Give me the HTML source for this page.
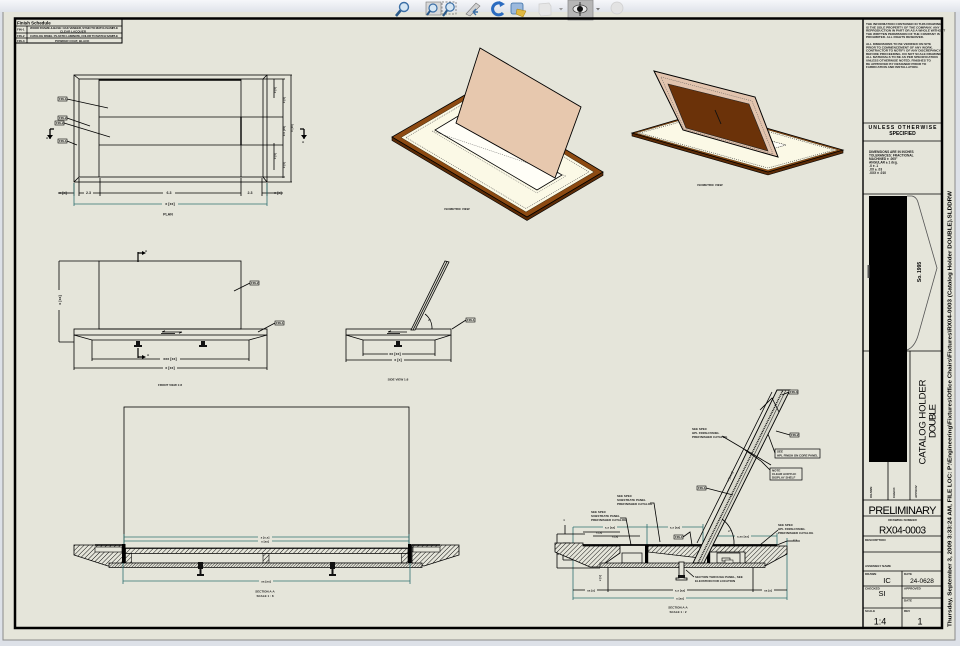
<!DOCTYPE html>
<html><head><meta charset="utf-8">
<style>
html,body{margin:0;padding:0;width:960px;height:646px;overflow:hidden;background:#dde1e8;}
svg{display:block;}
text{font-family:"Liberation Sans",sans-serif;}
.t{font-size:3.6px;font-weight:bold;fill:#1a1a1a;}
.s{font-size:3px;font-weight:bold;fill:#1a1a1a;}
.tl{fill:none;stroke:#2f7070;stroke-width:0.8;}
.ln{fill:none;stroke:#000;stroke-width:0.8;}
.th{fill:none;stroke:#000;stroke-width:1.2;}
</style></head><body>
<svg width="960" height="646" viewBox="0 0 960 646" xmlns="http://www.w3.org/2000/svg">
<defs>
 <linearGradient id="tb" x1="0" y1="0" x2="0" y2="1"><stop offset="0" stop-color="#f6f7fa"/><stop offset="1" stop-color="#dfe3ea"/></linearGradient>
 <pattern id="h" patternUnits="userSpaceOnUse" width="3.2" height="3.2" patternTransform="rotate(45)"><rect width="3.2" height="3.2" fill="#e5e5da"/><line x1="0" y1="0" x2="0" y2="3.2" stroke="#000" stroke-width="0.9"/></pattern>
 <pattern id="hf" patternUnits="userSpaceOnUse" width="2" height="2" patternTransform="rotate(45)"><rect width="2" height="2" fill="#e5e5da"/><line x1="0" y1="0" x2="0" y2="2" stroke="#000" stroke-width="0.8"/></pattern>
</defs>

<!-- sheet -->
<rect x="3" y="8" width="952" height="632" fill="#e5e5da" stroke="#8a8a8a" stroke-width="1"/>
<rect x="0" y="0" width="960" height="12" fill="url(#tb)"/>

<!-- toolbar icons -->
<g>
 <circle cx="404" cy="7" r="4.5" fill="#d5e6f4" stroke="#3a6ea5" stroke-width="1.4"/>
 <line x1="400.5" y1="10.5" x2="396" y2="16" stroke="#2a5a8a" stroke-width="2.6"/>
 <rect x="426" y="2" width="15" height="13" fill="#d8d8d8" stroke="#777" stroke-width="0.6"/>
 <circle cx="433" cy="8" r="4" fill="#d5e6f4" stroke="#3a6ea5" stroke-width="1.2"/>
 <line x1="430" y1="11" x2="427" y2="15" stroke="#2a5a8a" stroke-width="2"/>
 <rect x="442" y="2" width="14" height="12" fill="none" stroke="#666" stroke-width="0.7" stroke-dasharray="2,1.5"/>
 <circle cx="450" cy="7" r="4.2" fill="#d5e6f4" stroke="#3a6ea5" stroke-width="1.2"/>
 <line x1="447" y1="10.5" x2="443" y2="16" stroke="#2a5a8a" stroke-width="2.2"/>
 <path d="M466 14 L476 3 L480 6 L470 16 Z" fill="#d0d0d0" stroke="#777" stroke-width="0.6"/>
 <path d="M473 12 L478 12 M473 12 L476 9 M473 12 L476 15" stroke="#3a6ea5" stroke-width="1.4" fill="none"/>
 <path d="M502 4 A6 6 0 1 0 503 13" fill="none" stroke="#2a6bc0" stroke-width="3"/>
 <path d="M499 1 L505 4 L500 7 Z" fill="#2a6bc0"/>
 <rect x="511" y="3" width="12" height="11" rx="2" fill="#9bb9dd" stroke="#3a6ea5" stroke-width="0.8"/>
 <path d="M517 9 L526 11 L523 17 L516 14 Z" fill="#e0b840" stroke="#a07a10" stroke-width="0.5"/>
 <path d="M539 4 L549 3 L551 6 L551 15 L541 16 L539 13 Z" fill="#e6e6e6" stroke="#cfcfcf" stroke-width="0.7"/>
 <path d="M559 8 L563 8 L561 10.5 Z" fill="#999"/>
 <rect x="568" y="0" width="25" height="20" fill="#b6b6b6" stroke="#8e8e8e" stroke-width="0.8"/>
 <ellipse cx="580" cy="9" rx="7" ry="4" fill="#e8e8e8" stroke="#444" stroke-width="0.8"/>
 <circle cx="580" cy="9" r="3" fill="#111"/>
 <line x1="580" y1="2" x2="580" y2="16" stroke="#111" stroke-width="0.8"/>
 <path d="M596 8 L600 8 L598 10.5 Z" fill="#777"/>
 <circle cx="617" cy="8" r="6" fill="#e3e3e3" stroke="#cfcfcf" stroke-width="0.8"/>
</g>

<!-- border -->
<path d="M15 628 V18.5 H942 V628 Z" fill="none" stroke="#000" stroke-width="2.5"/>

<!-- finish schedule table -->
<rect x="15.5" y="19" width="106.5" height="24" fill="none" stroke="#000" stroke-width="1"/>
<line x1="15" y1="26" x2="122" y2="26" class="ln"/>
<line x1="15" y1="33" x2="122" y2="33" class="ln"/>
<line x1="15" y1="38" x2="122" y2="38" class="ln"/>
<line x1="27" y1="26" x2="27" y2="43" class="ln"/>
<text x="17" y="24.6" style="font-size:4.4px;font-weight:bold">Finish Schedule</text>
<text x="17" y="30.5" class="s">FIN-1</text>
<text x="30" y="29" class="s" textLength="88">WOOD FRAME &amp; BASE: OAK VENEER, STAIN TO MATCH SAMPLE</text>
<text x="60" y="32.3" class="s">CLEAR LACQUER</text>
<text x="17" y="36.8" class="s">FIN-2</text>
<text x="30" y="36.8" class="s" textLength="88">CATALOG PANEL: PLASTIC LAMINATE, COLOR TO MATCH SAMPLE</text>
<text x="17" y="41.8" class="s">FIN-3</text>
<text x="55" y="41.8" class="s">POWDER COAT, BLACK</text>

<!-- PLAN VIEW -->
<g>
 <rect x="74" y="75" width="193" height="107" class="ln" stroke-width="1"/>
 <rect x="79" y="79" width="184" height="98" class="ln"/>
 <path d="M74 75 L79 79 M267 75 L263 79 M74 182 L79 177 M267 182 L263 177" class="ln"/>
 <line x1="99" y1="80" x2="241" y2="80" stroke="#000" stroke-width="1.6"/>
 <line x1="99" y1="79" x2="99" y2="177" class="ln"/>
 <line x1="241" y1="79" x2="241" y2="177" class="ln"/>
 <line x1="99" y1="117" x2="283" y2="117" class="ln"/>
 <line x1="99" y1="145" x2="283" y2="145" class="ln"/>
 <line x1="241" y1="117" x2="241" y2="145" stroke="#000" stroke-width="1.4"/>
 <line x1="267" y1="75" x2="292" y2="75" class="ln"/>
 <line x1="267" y1="182" x2="292" y2="182" class="ln"/>
 <line x1="274" y1="79" x2="274" y2="98" class="ln"/>
 <line x1="274" y1="143" x2="274" y2="170" class="ln"/>
 <line x1="283" y1="79" x2="283" y2="178" class="ln"/>
 <line x1="291" y1="75" x2="291" y2="182" class="ln"/>
 <line x1="263" y1="79" x2="285" y2="79" class="ln"/>
 <line x1="263" y1="177" x2="285" y2="177" class="ln"/>
 <text transform="translate(276,90) rotate(-90)" class="s" text-anchor="middle">x [x]</text>
 <text transform="translate(276,156) rotate(-90)" class="s" text-anchor="middle">x [x]</text>
 <text transform="translate(285,100) rotate(-90)" class="s" text-anchor="middle">x [x]</text>
 <text transform="translate(285,131) rotate(-90)" class="s" text-anchor="middle">x.x [xx]</text>
 <text transform="translate(285,165) rotate(-90)" class="s" text-anchor="middle">x [x]</text>
 <text transform="translate(293,128) rotate(-90)" class="s" text-anchor="middle">x [xx]</text>
 <!-- bottom dims -->
 <path d="M74 183 V196 M79 178 V196 M100 178 V196 M241 178 V196 M262 178 V196 M267 183 V196" class="ln"/>
 <line x1="58" y1="193" x2="74" y2="193" class="ln"/>
 <line x1="79" y1="193" x2="241" y2="193" class="ln"/>
 <line x1="262" y1="193" x2="283" y2="193" class="ln"/>
 <rect x="84" y="191" width="9" height="4" fill="#e5e5da"/><text x="88.5" y="194.2" class="t" text-anchor="middle">2.3</text>
 <rect x="163" y="191" width="12" height="4" fill="#e5e5da"/><text x="169" y="194.2" class="t" text-anchor="middle">6.3</text>
 <rect x="245" y="191" width="10" height="4" fill="#e5e5da"/><text x="250" y="194.2" class="t" text-anchor="middle">2.3</text>
 <text x="63" y="194.2" class="t" text-anchor="middle">x [x]</text>
 <text x="278" y="194.2" class="t" text-anchor="middle">x [x]</text>
 <path d="M74 183 V206 M267 183 V206" class="tl"/>
 <line x1="74" y1="204" x2="267" y2="204" class="tl"/>
 <rect x="162" y="202" width="16" height="4" fill="#e5e5da"/><text x="170" y="205.2" class="t" text-anchor="middle">x [xx]</text>
 <text x="168" y="215.5" class="t" text-anchor="middle">PLAN</text>
 <!-- section marks -->
 <path d="M50 129 H54 M50 129 V139" stroke="#000" stroke-width="1.3" fill="none"/>
 <path d="M47 135 L50 139 L53 135 Z" fill="#000"/>
 <text x="46" y="139" class="s">A</text>
 <path d="M304 129 H300 M304 129 V139" stroke="#000" stroke-width="1.3" fill="none"/>
 <path d="M301 135 L304 139 L307 135 Z" fill="#000"/>
 <text x="302" y="143" class="s">A</text>
 <!-- leaders -->
 <rect x="58" y="97" width="9" height="4" fill="#e5e5da" stroke="#000" stroke-width="0.6"/><text x="59" y="100" class="s">FIN-1</text>
 <line x1="67" y1="99" x2="108" y2="108" class="ln"/>
 <rect x="58" y="116" width="9" height="4" fill="#e5e5da" stroke="#000" stroke-width="0.6"/><text x="59" y="119" class="s">FIN-2</text>
 <line x1="67" y1="118" x2="90" y2="126" class="ln"/>
 <rect x="55" y="121" width="9" height="4" fill="#e5e5da" stroke="#000" stroke-width="0.6"/><text x="56" y="124" class="s">FIN-2</text>
 <line x1="64" y1="123" x2="110" y2="137" class="ln"/>
 <rect x="58" y="139" width="9" height="4" fill="#e5e5da" stroke="#000" stroke-width="0.6"/><text x="59" y="142" class="s">FIN-1</text>
 <line x1="67" y1="141" x2="77" y2="145" class="ln"/>
</g>

<!-- ISOMETRIC VIEW 1 -->
<g>
 <polygon points="392,137 527,217 603,172 603,175.5 527,220.5 392,140.5" fill="#5a2a06" stroke="#000" stroke-width="0.6"/>
 <polygon points="392,137 470,92 603,172 527,217" fill="#8d4a12" stroke="#000" stroke-width="0.8"/>
 <polygon points="401,137.5 470,97 594,172 526,212" fill="#fbf9e6" stroke="#3a2a10" stroke-width="0.5"/>
 <polygon points="406,137.5 470,100 589,172 526,208.5" fill="none" stroke="#555" stroke-width="0.6" stroke-dasharray="1,1"/>
 <polygon points="435,130 537,190 562,175 460,115" fill="#fffef7" stroke="#000" stroke-width="0.8"/>
 <polygon points="432,131 537,193 566,176" fill="none" stroke="#555" stroke-width="0.5" stroke-dasharray="1,1"/>
 <polygon points="480,48 581,107 555,178 456,123" fill="#e7c8ae" stroke="#000" stroke-width="0.9"/>
 <text x="457" y="210" class="s" text-anchor="middle">ISOMETRIC VIEW</text>
</g>

<!-- ISOMETRIC VIEW 2 -->
<g>
 <polygon points="632,133 768,172 843,150 843,153 768,175 632,136" fill="#5a2a06" stroke="#000" stroke-width="0.6"/>
 <polygon points="632,133 707,111 843,150 768,172" fill="#8d4a12" stroke="#000" stroke-width="0.8"/>
 <polygon points="636,133 707,112.5 838,150 768,170" fill="#fbf9e6" stroke="#3a2a10" stroke-width="0.4"/>
 <polygon points="640,133 707,114.5 834,150 768,168" fill="none" stroke="#333" stroke-width="0.7" stroke-dasharray="0.8,1.2"/>
 <polygon points="700,129 772,149 786,145 714,125" fill="#fffef7" stroke="#222" stroke-width="0.6" stroke-dasharray="1,0.8"/>
 <polygon points="654,71 755,97 778,157 683,130" fill="#e2c4ae" stroke="#000" stroke-width="1"/>
 <polygon points="661,77 752,101 773,154 684,129" fill="none" stroke="#555" stroke-width="0.5" stroke-dasharray="1,1"/>
 <polygon points="668,84 749,104 768,151 686,128" fill="#6b3209" stroke="#222" stroke-width="0.6"/>
 <line x1="715" y1="110" x2="721" y2="124" stroke="#111" stroke-width="0.9"/>
 <text x="710" y="186" class="s" text-anchor="middle">ISOMETRIC VIEW</text>
</g>

<!-- FRONT VIEW -->
<g>
 <rect x="99" y="261" width="142" height="68" class="ln" stroke-width="1"/>
 <rect x="74" y="329" width="193" height="6" class="ln" stroke-width="1"/>
 <path d="M74 335 L92 340 H249 L267 335" class="ln"/>
 <path d="M92 340 V361 M249 340 V361 M74 335 V370 M267 335 V370" class="ln"/>
 <line x1="92" y1="359" x2="249" y2="359" class="ln"/>
 <line x1="74" y1="368" x2="267" y2="368" class="ln"/>
 <rect x="160" y="357" width="20" height="4" fill="#e5e5da"/><text x="170" y="360.2" class="t" text-anchor="middle">xxx [xx]</text>
 <rect x="163" y="366" width="14" height="4" fill="#e5e5da"/><text x="170" y="369.2" class="t" text-anchor="middle">x [xx]</text>
 <path d="M59 261 H99 M59 342 H74 M59 261 V342" class="ln"/>
 <rect x="57" y="290" width="4" height="20" fill="#e5e5da"/>
 <text transform="translate(61,300) rotate(-90)" class="t" text-anchor="middle">x [xx]</text>
 <path d="M138 252 V262 M138 253 H143" stroke="#000" stroke-width="1.2" fill="none"/>
 <path d="M142 251 L146 253 L142 255 Z" fill="#000"/><text x="145" y="252" class="s">A</text>
 <path d="M138 348 V358 M138 357 H143" stroke="#000" stroke-width="1.2" fill="none"/>
 <path d="M142 355 L146 357 L142 359 Z" fill="#000"/><text x="147" y="356" class="s">A</text>
 <path d="M136 341 h4 v4 h2 v2 h-8 v-2 h2 Z" fill="#111"/>
 <path d="M201 341 h4 v4 h2 v2 h-8 v-2 h2 Z" fill="#111"/>
 <path d="M162 332 H182 M162 332 l3 -1.2 M182 332 l-3 1.2" class="ln"/>
 <line x1="161" y1="333.5" x2="175" y2="333.5" class="ln"/>
 <rect x="250" y="281" width="9" height="4" fill="#e5e5da" stroke="#000" stroke-width="0.6"/><text x="251" y="284" class="s">FIN-2</text>
 <line x1="250" y1="283" x2="234" y2="291" class="ln"/>
 <rect x="275" y="321" width="9" height="4" fill="#e5e5da" stroke="#000" stroke-width="0.6"/><text x="276" y="324" class="s">FIN-1</text>
 <line x1="275" y1="323" x2="258" y2="332" class="ln"/>
 <text x="170" y="386" class="s" text-anchor="middle">FRONT VIEW 1:8</text>
</g>

<!-- SIDE VIEW -->
<g>
 <rect x="346" y="329" width="105" height="6" class="ln" stroke-width="1"/>
 <path d="M346 335 L363 340 H435 L451 335" class="ln"/>
 <path d="M363 340 V356 M435 340 V356 M346 335 V362 M451 335 V362" class="ln"/>
 <line x1="363" y1="354" x2="435" y2="354" class="ln"/>
 <line x1="346" y1="360" x2="451" y2="360" class="ln"/>
 <rect x="388" y="352" width="14" height="4" fill="#e5e5da"/><text x="395" y="355.2" class="t" text-anchor="middle">xx [xx]</text>
 <rect x="392" y="358" width="12" height="4" fill="#e5e5da"/><text x="398" y="361.2" class="t" text-anchor="middle">x [x]</text>
 <polygon points="411,330 445,261 449,262 415,330" fill="#d8d8cc" stroke="#000" stroke-width="0.8"/>
 <line x1="413" y1="330" x2="447" y2="261.5" class="ln" stroke-width="0.5"/>
 <path d="M425 314 A18 18 0 0 1 432 329" class="ln"/>
 <text x="428" y="321" class="s">x°</text>
 <path d="M388 332 H407 M388 332 l3 -1.2" class="ln"/>
 <line x1="387" y1="333.5" x2="400" y2="333.5" class="ln"/>
 <path d="M396 341 h4 v4 h2 v2 h-8 v-2 h2 Z" fill="#111"/>
 <rect x="466" y="318" width="9" height="4" fill="#e5e5da" stroke="#000" stroke-width="0.6"/><text x="467" y="321" class="s">FIN-1</text>
 <line x1="466" y1="320" x2="452" y2="329" class="ln"/>
 <text x="398" y="380.5" class="s" text-anchor="middle">SIDE VIEW 1:8</text>
</g>

<!-- SECTION A-A (bottom left) -->
<g>
 <rect x="124" y="407" width="285" height="141" class="ln" stroke-width="1"/>
 <line x1="124" y1="537" x2="409" y2="537" class="tl"/>
 <line x1="124" y1="541" x2="409" y2="541" class="tl"/>
 <path d="M124 534 V548 M409 534 V548" class="tl"/>
 <rect x="258" y="535" width="14" height="4" fill="#e5e5da"/><text x="265" y="538.3" class="s" text-anchor="middle">x [x.x]</text>
 <rect x="258" y="539.5" width="14" height="3.5" fill="#e5e5da"/><text x="265" y="542.5" class="s" text-anchor="middle">x [xx]</text>
 <polygon points="74,545 123,545 123,563 108,566 74,555" fill="url(#h)" stroke="#000" stroke-width="0.8"/>
 <rect x="95" y="547" width="27" height="5" fill="#e5e5da" stroke="#000" stroke-width="0.6"/>
 <line x1="95" y1="545" x2="123" y2="545" stroke="#000" stroke-width="1.5"/>
 <polygon points="459,545 412,545 412,563 424,566 459,555" fill="url(#h)" stroke="#000" stroke-width="0.8"/>
 <rect x="413" y="547" width="27" height="5" fill="#e5e5da" stroke="#000" stroke-width="0.6"/>
 <line x1="412" y1="545" x2="440" y2="545" stroke="#000" stroke-width="1.5"/>
 <rect x="122" y="544" width="3.5" height="19" fill="#000"/>
 <rect x="408" y="544" width="3.5" height="19" fill="#000"/>
 <rect x="125.5" y="548.5" width="282.5" height="5" fill="url(#h)" stroke="#000" stroke-width="0.7"/>
 <rect x="125.5" y="553.5" width="282.5" height="9.5" fill="#e5e5da" stroke="#000" stroke-width="0.6"/>
 <rect x="125.5" y="553.5" width="6" height="9.5" fill="url(#h)" stroke="#000" stroke-width="0.6"/>
 <rect x="263" y="553.5" width="6" height="9.5" fill="url(#h)" stroke="#000" stroke-width="0.6"/>
 <rect x="401.5" y="553.5" width="6.5" height="9.5" fill="url(#h)" stroke="#000" stroke-width="0.6"/>
 <rect x="109" y="563" width="313" height="4.5" fill="url(#hf)" stroke="#000" stroke-width="0.7"/>
 <path d="M198 562 h5 v7 h-1.5 v5 h2.5 v2 h-7 v-2 h2.5 v-5 h-1.5 Z" fill="#111"/>
 <path d="M330 562 h5 v7 h-1.5 v5 h2.5 v2 h-7 v-2 h2.5 v-5 h-1.5 Z" fill="#111"/>
 <path d="M123 563 V584 M410 563 V584" class="tl"/>
 <line x1="123" y1="581" x2="410" y2="581" class="tl"/>
 <rect x="259" y="579" width="14" height="4" fill="#e5e5da"/><text x="266" y="582.3" class="s" text-anchor="middle">xx [xx]</text>
 <text x="265" y="592.5" class="s" text-anchor="middle">SECTION A-A</text>
 <text x="265" y="597" class="s" text-anchor="middle">SCALE 1 : 8</text>
</g>

<!-- SECTION B-B (bottom right) -->
<g>
 <path d="M573 527 V600 M787 538 V600" class="tl"/>
 <line x1="573" y1="527" x2="703" y2="527" class="tl"/>
 <path d="M647 524 V545 M703 524 V545" class="tl"/>
 <line x1="710" y1="536" x2="777" y2="536" class="tl"/>
 <path d="M710 533 V545 M777 533 V545" class="tl"/>
 <line x1="573" y1="598" x2="787" y2="598" class="tl"/>
 <rect x="603" y="525" width="14" height="4" fill="#e5e5da"/><text x="610" y="528.3" class="s" text-anchor="middle">x.x [xx]</text>
 <rect x="668" y="525" width="14" height="4" fill="#e5e5da"/><text x="675" y="528.3" class="s" text-anchor="middle">x.x [xx]</text>
 <rect x="735" y="534" width="16" height="4" fill="#e5e5da"/><text x="743" y="537.3" class="s" text-anchor="middle">x.xx [xx]</text>
 <rect x="674" y="596" width="12" height="4" fill="#e5e5da"/><text x="680" y="599.3" class="s" text-anchor="middle">x [xx]</text>
 <path d="M583 532 H620 M593 536 H640" class="ln"/>
 <text x="596" y="533.5" class="s">x [x]</text>
 <text x="612" y="537.5" class="s">x [x]</text>
 <line x1="573" y1="590" x2="787" y2="590" class="ln"/>
 <path d="M608 567 V592 M753 567 V592" class="ln"/>
 <rect x="585" y="588" width="12" height="4" fill="#e5e5da"/><text x="591" y="591.3" class="s" text-anchor="middle">xx [x]</text>
 <rect x="673" y="588" width="14" height="4" fill="#e5e5da"/><text x="680" y="591.3" class="s" text-anchor="middle">x.x [xx]</text>
 <rect x="762" y="588" width="12" height="4" fill="#e5e5da"/><text x="768" y="591.3" class="s" text-anchor="middle">xx [x]</text>
 <path d="M557 534 H585 M557 534 V568 M557 568 H600 M563 543 V560 M563 543 H570 M563 560 H580" class="ln"/>
 <text transform="translate(559,552) rotate(-90)" class="s" text-anchor="middle">x [x]</text>
 <text transform="translate(565,520) rotate(-90)" class="s" text-anchor="middle">x</text>
 <line x1="565" y1="525" x2="565" y2="534" class="ln"/>
 <text transform="translate(601,578) rotate(-90)" class="s" text-anchor="middle">x [x]</text>
 <polygon points="555,543 583,543 583,546 620,546 620,553 600,567 590,567 555,552" fill="url(#h)" stroke="#000" stroke-width="0.8"/>
 <line x1="583" y1="545" x2="777" y2="545" stroke="#000" stroke-width="1.8"/>
 <polygon points="648,546 700,546 700,558 648,552" fill="url(#h)" stroke="#000" stroke-width="0.7"/>
 <rect x="645" y="545" width="3.2" height="18" fill="#000"/>
 <rect x="707" y="545" width="3.2" height="18" fill="#000"/>
 <rect x="622" y="553" width="20" height="10" fill="#e5e5da" stroke="#000" stroke-width="0.7"/>
 <polygon points="710,546 787,546 787,554 765,566 745,566 745,552 710,552" fill="url(#h)" stroke="#000" stroke-width="0.8"/>
 <rect x="717" y="553" width="23" height="10" fill="#e5e5da" stroke="#000" stroke-width="0.7"/>
 <rect x="722" y="558" width="8" height="3" fill="#e5e5da" stroke="#000" stroke-width="0.6"/>
 <path d="M777 545 L787 541 H800" class="ln"/>
 <text x="793" y="541" class="s">x.x</text>
 <rect x="600" y="563" width="165" height="4.5" fill="url(#hf)" stroke="#000" stroke-width="0.7"/>
 <path d="M679 562 h5 v16 h3 v2 h-11 v-2 h3 Z" fill="#e5e5da" stroke="#000" stroke-width="0.8"/>
 <path d="M678 575 h7 v3 h-7 Z" fill="#111"/>
 <line x1="697" y1="543" x2="772" y2="392" class="ln"/>
 <polygon points="693,563 777,390 790,390 704,563" fill="#d9d9cd" stroke="#000" stroke-width="0.9"/>
 <line x1="698" y1="563" x2="783" y2="390" stroke="#111" stroke-width="1.4" stroke-dasharray="1,0.8"/>
 <line x1="701" y1="563" x2="786" y2="390" stroke="#333" stroke-width="0.6"/>
 <path d="M722 519 A30 30 0 0 1 734 545" class="ln"/>
 <text x="728" y="532" class="s">x°</text>
 <text transform="translate(731,477) rotate(-63)" class="s" text-anchor="middle">x [xx.x]</text>
 <path d="M760 410 L772 398 L779 412" class="ln"/>
 <text x="692" y="430" class="s">SEE SPEC</text>
 <text x="692" y="434" class="s">HPL FINISH PANEL</text>
 <text x="692" y="438" class="s">PREFINISHED CATALOG</text>
 <path d="M722 436 L771 465" class="ln"/>
 <text x="617" y="497" class="s">SEE SPEC</text>
 <text x="617" y="501" class="s">SUBSTRATE PANEL</text>
 <text x="617" y="505" class="s">PREFINISHED CATALOG</text>
 <path d="M650 503 L654 503 L660 542" class="ln"/>
 <text x="591" y="513" class="s">SEE SPEC</text>
 <text x="591" y="517" class="s">SUBSTRATE PANEL</text>
 <text x="591" y="521" class="s">PREFINISHED CATALOG</text>
 <path d="M620 518 L626 518 L631 545" class="ln"/>
 <text x="778" y="526" class="s">SEE SPEC</text>
 <text x="778" y="530" class="s">HPL FINISH PANEL</text>
 <text x="778" y="534" class="s">PREFINISHED CATALOG</text>
 <path d="M778 530 L760 545" class="ln"/>
 <rect x="775" y="449" width="45" height="9" fill="none" stroke="#000" stroke-width="0.7"/>
 <text x="777" y="452.5" class="s">SEE</text>
 <text x="777" y="456.5" class="s" textLength="41">HPL FINISH ON CORE PANEL</text>
 <path d="M775 453 L768 434" class="ln"/>
 <rect x="770" y="468" width="32" height="12" fill="none" stroke="#000" stroke-width="0.7"/>
 <text x="772" y="471.5" class="s">NOTE</text>
 <text x="772" y="475" class="s">CLEAR ACRYLIC</text>
 <text x="772" y="478.5" class="s">DISPLAY SHELF</text>
 <path d="M770 470 L761 461 L745 450" class="ln"/>
 <rect x="697" y="486" width="9" height="4" fill="#e5e5da" stroke="#000" stroke-width="0.6"/><text x="698" y="489" class="s">FIN-1</text>
 <path d="M706 488 L733 495" class="ln"/>
 <rect x="790" y="433" width="9" height="4" fill="#e5e5da" stroke="#000" stroke-width="0.6"/><text x="791" y="436" class="s">FIN-2</text>
 <path d="M790 435 L776 431" class="ln"/>
 <rect x="789" y="390" width="9" height="4" fill="#e5e5da" stroke="#000" stroke-width="0.6"/><text x="790" y="393" class="s">FIN-3</text>
 <path d="M789 392 L782 395" class="ln"/>
 <rect x="674" y="535" width="9" height="4" fill="#e5e5da" stroke="#000" stroke-width="0.6"/><text x="675" y="538" class="s">FIN-1</text>
 <path d="M683 537 L690 532 L692 545" class="ln"/>
 <rect x="725" y="560" width="8" height="3" fill="#e5e5da" stroke="#000" stroke-width="0.5"/>
 <text x="695" y="578" class="s">SECTION THROUGH PANEL, SEE</text>
 <text x="695" y="582" class="s">ELEVATION FOR LOCATION</text>
 <path d="M686 570 L694 577" class="ln"/>
 <text x="678" y="608.5" class="s" text-anchor="middle">SECTION A-A</text>
 <text x="678" y="613" class="s" text-anchor="middle">SCALE 1 : 2</text>
</g>

<!-- TITLE BLOCK -->
<g>
 <line x1="863" y1="18.5" x2="863" y2="628" stroke="#000" stroke-width="1.4"/>
 <path d="M863 123 H942 M863 141 H942 M863 194 H942 M863 351 H942 M863 500 H942 M863 516 H942 M863 536 H942 M863 552 H942 M863 571 H942 M863 608 H942" class="ln" stroke-width="1"/>
 <path d="M863 586 H942 M902 598 H942 M902 571 V628 M888 462 V500 M910 351 V500" class="ln"/>
 <g class="s" style="font-size:3.1px">
  <text x="866" y="25">THE INFORMATION CONTAINED IN THIS DRAWING</text>
  <text x="866" y="28.3">IS THE SOLE PROPERTY OF THE COMPANY. ANY</text>
  <text x="866" y="31.6">REPRODUCTION IN PART OR AS A WHOLE WITHOUT</text>
  <text x="866" y="34.9">THE WRITTEN PERMISSION OF THE COMPANY IS</text>
  <text x="866" y="38.2">PROHIBITED. ALL RIGHTS RESERVED.</text>
  <text x="866" y="45">ALL DIMENSIONS TO BE VERIFIED ON SITE</text>
  <text x="866" y="48.3">PRIOR TO COMMENCEMENT OF ANY WORK.</text>
  <text x="866" y="51.6">CONTRACTOR TO NOTIFY OF ANY DISCREPANCY</text>
  <text x="866" y="54.9">BEFORE PROCEEDING. DO NOT SCALE DRAWING.</text>
  <text x="866" y="58.2">ALL MATERIALS TO BE AS PER SPECIFICATION</text>
  <text x="866" y="61.5">UNLESS OTHERWISE NOTED. FINISHES TO</text>
  <text x="866" y="64.8">BE APPROVED BY DESIGNER PRIOR TO</text>
  <text x="866" y="68.1">FABRICATION AND INSTALLATION.</text>
 </g>
 <text x="902.5" y="129" style="font-size:5px;font-weight:bold" text-anchor="middle" textLength="68">UNLESS OTHERWISE</text>
 <text x="902.5" y="135" style="font-size:5px;font-weight:bold" text-anchor="middle">SPECIFIED</text>
 <g class="s" style="font-size:3.2px">
  <text x="869" y="153">DIMENSIONS ARE IN INCHES</text>
  <text x="869" y="156.5">TOLERANCES: FRACTIONAL</text>
  <text x="869" y="160">MACHINED    ± .005"</text>
  <text x="869" y="163.5">ANGULAR      ± 1 deg.</text>
  <text x="869" y="167">.X    ± .1</text>
  <text x="869" y="170.5">.XX   ± .03</text>
  <text x="869" y="174">.XXX  ± .010</text>
 </g>
 <rect x="869" y="196" width="38" height="266" fill="#000"/>
 <rect x="867.5" y="265" width="2" height="13" fill="#555"/>
 <path d="M907 196 H912 Q917 197 918.5 204 L937 268 L918.5 334 Q915 347 907 350" fill="none" stroke="#555" stroke-width="0.8"/>
 <text transform="translate(921,272) rotate(-90)" style="font-size:5px;font-weight:bold" text-anchor="middle">So. 1995</text>
 <text transform="translate(925.5,422) rotate(-90)" style="font-size:9.5px" text-anchor="middle" textLength="85">CATALOG HOLDER</text>
 <text transform="translate(935.5,421) rotate(-90)" style="font-size:9.5px" text-anchor="middle" textLength="34">DOUBLE</text>
 <text transform="translate(872,498) rotate(-90)" class="s">DRAWN</text>
 <text transform="translate(895,498) rotate(-90)" class="s">CHECK</text>
 <text transform="translate(917,498) rotate(-90)" class="s">APPROV</text>
 <text x="902.5" y="514" style="font-size:11px" text-anchor="middle" textLength="68">PRELIMINARY</text>
 <text x="902.5" y="521" class="s" text-anchor="middle">DRAWING NUMBER</text>
 <text x="902.5" y="533.5" style="font-size:10px" text-anchor="middle" textLength="47">RX04-0003</text>
 <text x="865" y="541" class="s">DESCRIPTION</text>
 <text x="865" y="567" class="s">ASSEMBLY NAME</text>
 <text x="865" y="575" class="s">DRAWN</text>
 <text x="887" y="583" style="font-size:7.5px" text-anchor="middle">IC</text>
 <text x="904" y="575" class="s">DATE</text>
 <text x="922" y="583" style="font-size:6.5px" text-anchor="middle">24-0628</text>
 <text x="865" y="589.5" class="s">CHECKED</text>
 <text x="882" y="596" style="font-size:7.5px" text-anchor="middle">SI</text>
 <text x="904" y="589.5" class="s">APPROVED</text>
 <text x="904" y="601.5" class="s">DATE</text>
 <text x="865" y="612" class="s">SCALE</text>
 <text x="880" y="624.5" style="font-size:9px" text-anchor="middle">1:4</text>
 <text x="904" y="612" class="s">REV</text>
 <text x="920" y="624.5" style="font-size:9px" text-anchor="middle">1</text>
 <text transform="translate(951.5,627) rotate(-90)" style="font-size:5.5px;font-weight:bold" textLength="436" lengthAdjust="spacingAndGlyphs">Thursday, September 3, 2009 3:33:24 AM, FILE LOC: P:\Engineering\Fixtures\Office Chairs\Fixtures\RX04-0003 (Catalog Holder DOUBLE).SLDDRW</text>
</g>
</svg>
</body></html>
